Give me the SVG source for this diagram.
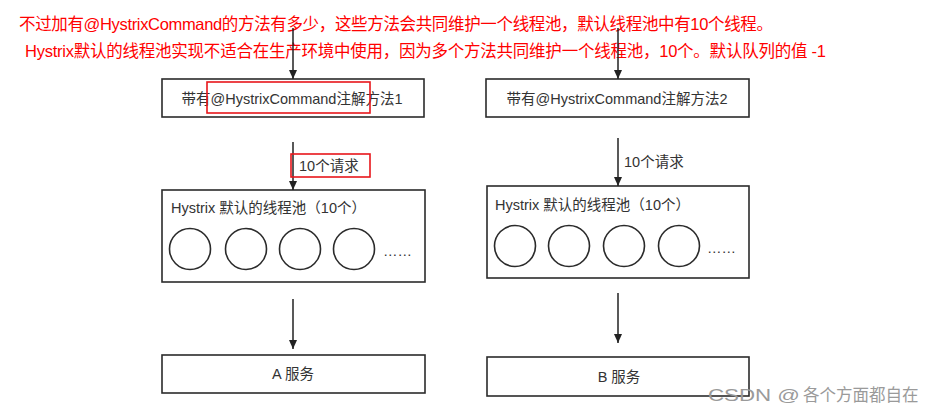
<svg xmlns="http://www.w3.org/2000/svg" width="934" height="413" viewBox="0 0 934 413">
<style>
.box{fill:#fff;stroke:#2b2b2b;stroke-width:1.6}
.c{fill:none;stroke:#2b2b2b;stroke-width:1.6}
.t{font-family:"Liberation Sans","Noto Sans CJK SC",sans-serif;font-size:14.5px;fill:#333}
.red{font-family:"Liberation Sans","Noto Sans CJK SC",sans-serif;font-size:16.5px;fill:#ff0000}
.hl{fill:none;stroke:#e8161b;stroke-width:1.6}
.ln{stroke:#222;stroke-width:1.5;fill:none}
.wm{font-family:"Liberation Sans","Noto Sans CJK SC",sans-serif;font-size:16.5px;fill:#9a9a9a}
</style>
<defs>
<marker id="ah" markerUnits="userSpaceOnUse" markerWidth="10" markerHeight="10" refX="9" refY="5" orient="auto">
<path d="M0,1 L9,5 L0,9 Z" fill="#222"/>
</marker>
</defs>
<rect width="934" height="413" fill="#fff"/>
<g id="notes">
<text class="red" x="19" y="30" textLength="754" lengthAdjust="spacing">不过加有@HystrixCommand的方法有多少，这些方法会共同维护一个线程池，默认线程池中有10个线程。</text>
<text class="red" x="25" y="57" textLength="801" lengthAdjust="spacing">Hystrix默认的线程池实现不适合在生产环境中使用，因为多个方法共同维护一个线程池，10个。默认队列的值 -1</text>
</g>
<g id="method1">
<rect class="box" x="162" y="79" width="262" height="38"/>
<text class="t" x="292" y="104" text-anchor="middle">带有@HystrixCommand注解方法1</text>
<rect class="hl" x="207" y="82" width="163" height="31"/>
</g>
<g id="method2">
<rect class="box" x="486" y="79" width="263" height="38"/>
<text class="t" x="617" y="104" text-anchor="middle">带有@HystrixCommand注解方法2</text>
</g>
<g id="pool1">
<rect class="box" x="162" y="190" width="263" height="92"/>
<text class="t" x="171" y="213">Hystrix 默认的线程池（10个）</text>
<circle class="c" cx="190" cy="249" r="20.5"/>
<circle class="c" cx="246" cy="249" r="20.5"/>
<circle class="c" cx="300" cy="249" r="20.5"/>
<circle class="c" cx="354" cy="249" r="20.5"/>
<text class="t" x="383" y="256">……</text>
</g>
<g id="pool2">
<rect class="box" x="487" y="186" width="262" height="92"/>
<text class="t" x="495" y="210">Hystrix 默认的线程池（10个）</text>
<circle class="c" cx="515" cy="246" r="20.5"/>
<circle class="c" cx="569" cy="246" r="20.5"/>
<circle class="c" cx="624" cy="246" r="20.5"/>
<circle class="c" cx="679" cy="246" r="20.5"/>
<text class="t" x="707" y="253">……</text>
</g>
<g id="serviceA">
<rect class="box" x="162" y="355" width="263" height="38"/>
<text class="t" x="293" y="379" text-anchor="middle">A 服务</text>
</g>
<g id="serviceB">
<rect class="box" x="487" y="357" width="262" height="39"/>
<text class="t" x="619" y="382" text-anchor="middle">B 服务</text>
</g>
<g id="connectors">
<line class="ln" x1="293" y1="28" x2="293" y2="79" marker-end="url(#ah)"/>
<line class="ln" x1="618" y1="28" x2="618" y2="79" marker-end="url(#ah)"/>
<line class="ln" x1="293" y1="142" x2="293" y2="190" marker-end="url(#ah)"/>
<text class="t" x="299" y="171">10个请求</text>
<rect class="hl" x="291" y="154" width="79" height="23"/>
<line class="ln" x1="618" y1="138" x2="618" y2="186" marker-end="url(#ah)"/>
<text class="t" x="624" y="167">10个请求</text>
<line class="ln" x1="293" y1="299" x2="293" y2="349" marker-end="url(#ah)"/>
<line class="ln" x1="618" y1="293" x2="618" y2="343" marker-end="url(#ah)"/>
</g>
<text class="wm" x="708" y="401"><tspan textLength="92" lengthAdjust="spacingAndGlyphs">CSDN @</tspan><tspan x="803">各个方面都自在</tspan></text>
</svg>
